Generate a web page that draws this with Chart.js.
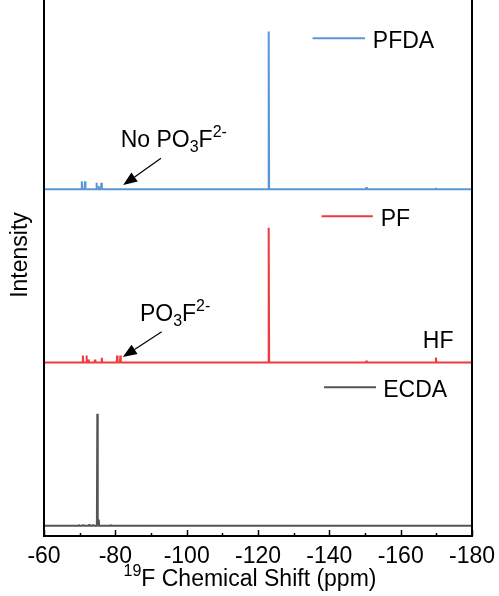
<!DOCTYPE html>
<html>
<head>
<meta charset="utf-8">
<script src="https://cdn.jsdelivr.net/npm/chart.js@4/dist/chart.umd.min.js"></script>
<style>
  html, body { margin: 0; padding: 0; background: #fff; }
  #wrap { width: 499px; height: 596px; position: relative; }
</style>
</head>
<body>
<div id="wrap"><canvas id="nmr"></canvas></div>
<script>
const FONT = '"Liberation Sans", Arial, Helvetica, sans-serif';
const FS = 23;

// Chemical shift axis (ppm)
const shiftMajorTicks = [-60, -80, -100, -120, -140, -160, -180];
const shiftMinorTicks = [-70, -90, -110, -130, -150, -170];
const shiftLabels = ['-60', '-80', '-100', '-120', '-140', '-160', '-180'];

// Peak lists: position (ppm) and intensity (a.u.)
const pfdaShifts    = [-70.6, -71.5, -74.7, -75.3, -76.1, -123.0, -150.4, -169.9];
const pfdaIntensity = [0.050, 0.050, 0.040, 0.020, 0.040, 1.000, 0.012, 0.008];

const pfShifts    = [-70.9, -71.9, -72.5, -74.3, -76.2, -80.5, -81.4, -123.0, -150.4, -169.9];
const pfIntensity = [0.045, 0.045, 0.020, 0.018, 0.030, 0.045, 0.045, 0.855, 0.012, 0.032];

const ecdaShifts    = [-69.8, -71.0, -72.7, -73.8, -74.95, -75.35, -78.7];
const ecdaIntensity = [0.008, 0.008, 0.010, 0.008, 0.710, 0.040, 0.008];

// Vertical offsets of the stacked traces
const pfdaOffset = 2.20;
const pfOffset = 1.10;
const ecdaOffset = 0.065;

const COLORS = { PFDA: '#5b96d4', PF: '#ee3b3e', ECDA: '#555555' };

// Turn a peak list into a stick spectrum sitting on its baseline
function spectrum(shifts, intens, offset) {
  const hw = 0.12;
  const idx = shifts.map((s, i) => i).sort((a, b) => shifts[b] - shifts[a]);
  const pts = [{ x: -58, y: offset }];
  idx.forEach(i => {
    pts.push({ x: shifts[i] + hw, y: offset });
    pts.push({ x: shifts[i], y: offset + intens[i] });
    pts.push({ x: shifts[i] - hw, y: offset });
  });
  pts.push({ x: -182, y: offset });
  return pts;
}

// Legend entries and labels placed in data coordinates
const legendItems = [
  { label: 'PFDA', color: COLORS.PFDA, x0: -135.3, x1: -150.0, y: 3.157, tx: -152.2 },
  { label: 'PF',   color: COLORS.PF,   x0: -137.8, x1: -152.2, y: 2.028, tx: -154.4 },
  { label: 'ECDA', color: COLORS.ECDA, x0: -138.5, x1: -153.1, y: 0.943, tx: -155.1 }
];

const textLabels = [
  { parts: [{ t: 'No PO' }, { t: '3', sub: true }, { t: 'F' }, { t: '2-', sup: true }], x: -81.5, y: 2.470 },
  { parts: [{ t: 'PO' }, { t: '3', sub: true }, { t: 'F' }, { t: '2-', sup: true }], x: -86.9, y: 1.366 },
  { parts: [{ t: 'HF' }], x: -166.2, y: 1.191 }
];

const arrows = [
  { x0: -92.8, y0: 2.396, x1: -82.2, y1: 2.226 },
  { x0: -93.0, y0: 1.296, x1: -82.1, y1: 1.135 }
];

function drawRich(ctx, parts, x, y, size) {
  let cx = x;
  parts.forEach(p => {
    const s = (p.sub || p.sup) ? Math.round(size * 0.68) : size;
    ctx.font = s + 'px ' + FONT;
    const dy = p.sub ? size * 0.25 : (p.sup ? -size * 0.42 : 0);
    ctx.fillText(p.t, cx, y + dy);
    cx += ctx.measureText(p.t).width;
  });
  return cx - x;
}

function measureRich(ctx, parts, size) {
  let w = 0;
  parts.forEach(p => {
    const s = (p.sub || p.sup) ? Math.round(size * 0.68) : size;
    ctx.font = s + 'px ' + FONT;
    w += ctx.measureText(p.t).width;
  });
  return w;
}

const decor = {
  id: 'decor',
  afterDatasetsDraw(chart) {
    const { ctx, chartArea: a, scales: { x, y } } = chart;
    ctx.save();

    // frame
    ctx.strokeStyle = '#000';
    ctx.lineWidth = 2;
    ctx.beginPath();
    ctx.moveTo(a.left, a.top - 2);
    ctx.lineTo(a.left, a.bottom);
    ctx.lineTo(a.right, a.bottom);
    ctx.lineTo(a.right, a.top - 2);
    ctx.stroke();

    // inward ticks on the shift axis
    ctx.lineWidth = 1.5;
    ctx.beginPath();
    shiftMajorTicks.forEach(v => {
      const px = Math.round(x.getPixelForValue(v)) + 0.5;
      ctx.moveTo(px, a.bottom);
      ctx.lineTo(px, a.bottom - 6);
    });
    shiftMinorTicks.forEach(v => {
      const px = Math.round(x.getPixelForValue(v)) + 0.5;
      ctx.moveTo(px, a.bottom);
      ctx.lineTo(px, a.bottom - 3);
    });
    ctx.stroke();

    // legend entries
    ctx.fillStyle = '#000';
    ctx.textBaseline = 'middle';
    ctx.textAlign = 'left';
    legendItems.forEach(it => {
      const py = y.getPixelForValue(it.y);
      ctx.strokeStyle = it.color;
      ctx.lineWidth = 2;
      ctx.beginPath();
      ctx.moveTo(x.getPixelForValue(it.x0), py);
      ctx.lineTo(x.getPixelForValue(it.x1), py);
      ctx.stroke();
      ctx.font = FS + 'px ' + FONT;
      ctx.fillText(it.label, x.getPixelForValue(it.tx), py + 3);
    });

    // peak labels
    ctx.textBaseline = 'alphabetic';
    textLabels.forEach(l => {
      drawRich(ctx, l.parts, x.getPixelForValue(l.x), y.getPixelForValue(l.y), FS);
    });

    // arrows
    arrows.forEach(ar => {
      const x0 = x.getPixelForValue(ar.x0), y0 = y.getPixelForValue(ar.y0);
      const x1 = x.getPixelForValue(ar.x1), y1 = y.getPixelForValue(ar.y1);
      const ang = Math.atan2(y1 - y0, x1 - x0);
      const len = 14, half = 5.5;
      const bx = x1 - len * Math.cos(ang), by = y1 - len * Math.sin(ang);
      ctx.strokeStyle = '#000';
      ctx.lineWidth = 1.2;
      ctx.beginPath();
      ctx.moveTo(x0, y0);
      ctx.lineTo(bx, by);
      ctx.stroke();
      ctx.fillStyle = '#000';
      ctx.beginPath();
      ctx.moveTo(x1, y1);
      ctx.lineTo(bx + half * Math.sin(ang), by - half * Math.cos(ang));
      ctx.lineTo(bx - half * Math.sin(ang), by + half * Math.cos(ang));
      ctx.closePath();
      ctx.fill();
    });

    // axis titles
    const xTitle = [{ t: '19', sup: true }, { t: 'F Chemical Shift (ppm)' }];
    const w = measureRich(ctx, xTitle, FS);
    ctx.fillStyle = '#000';
    drawRich(ctx, xTitle, 250 - w / 2, 586, FS);

    ctx.save();
    ctx.translate(21, 255);
    ctx.rotate(-Math.PI / 2);
    ctx.font = FS + 'px ' + FONT;
    ctx.textAlign = 'center';
    ctx.textBaseline = 'middle';
    ctx.fillText('Intensity', 0, 0);
    ctx.restore();

    ctx.restore();
  }
};

const trace = (label, data, color, width) => ({
  label, data,
  borderColor: color,
  borderWidth: width,
  borderJoinStyle: 'bevel',
  pointRadius: 0,
  tension: 0,
  fill: false
});

new Chart(document.getElementById('nmr'), {
  type: 'line',
  data: {
    datasets: [
      trace('PFDA', spectrum(pfdaShifts, pfdaIntensity, pfdaOffset), COLORS.PFDA, 2),
      trace('PF', spectrum(pfShifts, pfIntensity, pfOffset), COLORS.PF, 2),
      trace('ECDA', spectrum(ecdaShifts, ecdaIntensity, ecdaOffset), COLORS.ECDA, 2)
    ]
  },
  options: {
    responsive: true,
    maintainAspectRatio: false,
    animation: false,
    events: [],
    layout: { padding: { left: 44, right: 27, top: 0, bottom: 0 } },
    plugins: { legend: { display: false }, tooltip: { enabled: false } },
    scales: {
      x: {
        type: 'linear',
        min: -180, max: -60,
        reverse: true,
        afterBuildTicks: s => { s.ticks = shiftMajorTicks.map(v => ({ value: v })); },
        afterFit: s => { s.height = 60; s.paddingLeft = 0; s.paddingRight = 0; },
        grid: { display: false, drawTicks: false },
        border: { display: false },
        ticks: {
          color: '#000',
          padding: 7,
          maxRotation: 0,
          autoSkip: false,
          font: { family: FONT, size: FS },
          callback: v => shiftLabels[shiftMajorTicks.indexOf(v)]
        }
      },
      y: {
        type: 'linear',
        min: 0, max: 3.4,
        display: false
      }
    }
  },
  plugins: [decor]
});
</script>
</body>
</html>
